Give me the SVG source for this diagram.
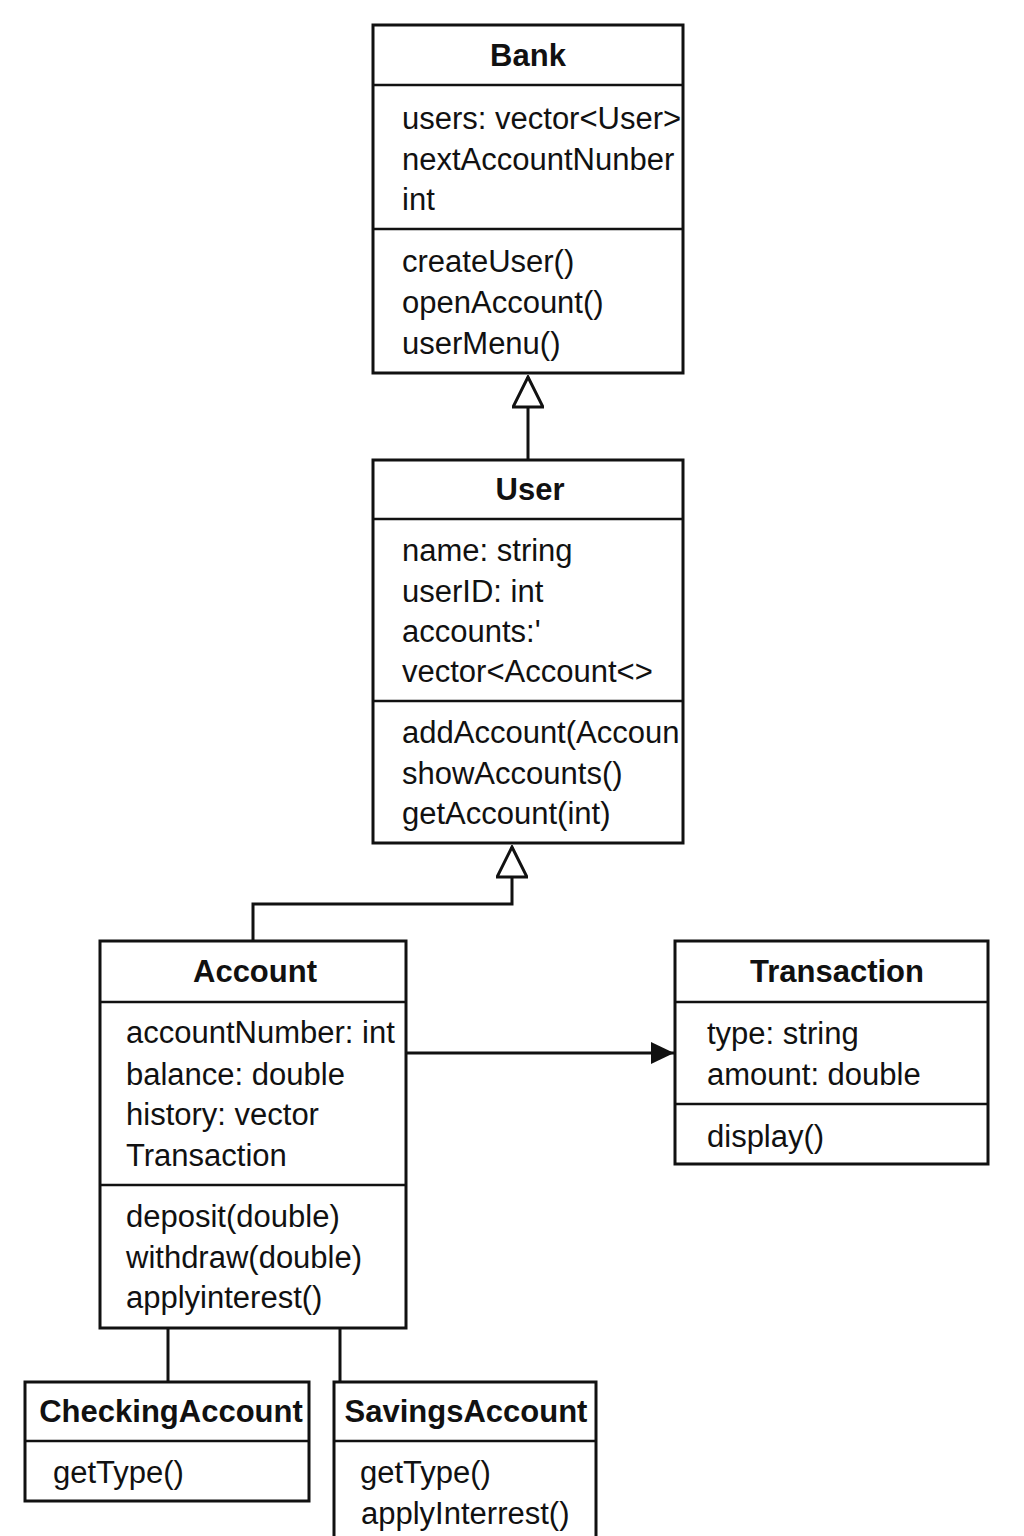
<svg xmlns="http://www.w3.org/2000/svg" width="1024" height="1536" viewBox="0 0 1024 1536">
<style>
.box{fill:#fff;stroke:#111;stroke-width:3}
.div{stroke:#111;stroke-width:2.5}
.t{font-family:"Liberation Sans",Arial,sans-serif;font-size:31px;font-weight:bold;fill:#111;text-anchor:middle}
.a{font-family:"Liberation Sans",Arial,sans-serif;font-size:31px;fill:#111}
.c{fill:none;stroke:#111;stroke-width:3}
</style>
<defs>
<marker id="tri" markerWidth="34" markerHeight="32" refX="32" refY="16" orient="auto" markerUnits="userSpaceOnUse">
<path d="M2,1 L32,16 L2,31 Z" fill="#fff" stroke="#111" stroke-width="3"/>
</marker>
<marker id="arr" markerWidth="24" markerHeight="24" refX="23" refY="12" orient="auto" markerUnits="userSpaceOnUse">
<path d="M0,1 L23,12 L0,23 Z" fill="#111"/>
</marker>
</defs>
<rect width="1024" height="1536" fill="#fff"/>
<g id="connectors">
<path class="c" d="M528,460 L528,377" marker-end="url(#tri)"/>
<path class="c" d="M253,941 L253,904 L512,904 L512,847" marker-end="url(#tri)"/>
<path class="c" d="M406,1053 L674,1053" marker-end="url(#arr)"/>
<path class="c" d="M168,1328 L168,1382"/>
<path class="c" d="M340,1328 L340,1382"/>
</g>
<g id="bank">
<rect class="box" x="373" y="25" width="310" height="348"/>
<line class="div" x1="373" y1="85" x2="683" y2="85"/>
<line class="div" x1="373" y1="229" x2="683" y2="229"/>
<text class="t" x="528" y="66">Bank</text>
<text class="a" x="402" y="129">users: vector&lt;User&gt;</text>
<text class="a" x="402" y="170">nextAccountNunber</text>
<text class="a" x="402" y="210">int</text>
<text class="a" x="402" y="272">createUser()</text>
<text class="a" x="402" y="313">openAccount()</text>
<text class="a" x="402" y="354">userMenu()</text>
</g>
<g id="user">
<rect class="box" x="373" y="460" width="310" height="383"/>
<line class="div" x1="373" y1="519" x2="683" y2="519"/>
<line class="div" x1="373" y1="701" x2="683" y2="701"/>
<text class="t" x="530" y="500">User</text>
<text class="a" x="402" y="561">name: string</text>
<text class="a" x="402" y="602">userID: int</text>
<text class="a" x="402" y="642">accounts:'</text>
<text class="a" x="402" y="682">vector&lt;Account&lt;&gt;</text>
<text class="a" x="402" y="743">addAccount(Accoun</text>
<text class="a" x="402" y="784">showAccounts()</text>
<text class="a" x="402" y="824">getAccount(int)</text>
</g>
<g id="account">
<rect class="box" x="100" y="941" width="306" height="387"/>
<line class="div" x1="100" y1="1002" x2="406" y2="1002"/>
<line class="div" x1="100" y1="1185" x2="406" y2="1185"/>
<text class="t" x="255" y="982">Account</text>
<text class="a" x="126" y="1043">accountNumber: int</text>
<text class="a" x="126" y="1085">balance: double</text>
<text class="a" x="126" y="1125">history: vector</text>
<text class="a" x="126" y="1166">Transaction</text>
<text class="a" x="126" y="1227">deposit(double)</text>
<text class="a" x="126" y="1268">withdraw(double)</text>
<text class="a" x="126" y="1308">applyinterest()</text>
</g>
<g id="transaction">
<rect class="box" x="675" y="941" width="313" height="223"/>
<line class="div" x1="675" y1="1002" x2="988" y2="1002"/>
<line class="div" x1="675" y1="1104" x2="988" y2="1104"/>
<text class="t" x="837" y="982">Transaction</text>
<text class="a" x="707" y="1044">type: string</text>
<text class="a" x="707" y="1085">amount: double</text>
<text class="a" x="707" y="1147">display()</text>
</g>
<g id="checking">
<rect class="box" x="25" y="1382" width="284" height="119"/>
<line class="div" x1="25" y1="1441" x2="309" y2="1441"/>
<text class="t" x="171" y="1422">CheckingAccount</text>
<text class="a" x="53" y="1483">getType()</text>
</g>
<g id="savings">
<rect class="box" x="334" y="1382" width="262" height="170"/>
<line class="div" x1="334" y1="1441" x2="596" y2="1441"/>
<text class="t" x="466" y="1422">SavingsAccount</text>
<text class="a" x="360" y="1483">getType()</text>
<text class="a" x="361" y="1524">applyInterrest()</text>
</g>
</svg>
